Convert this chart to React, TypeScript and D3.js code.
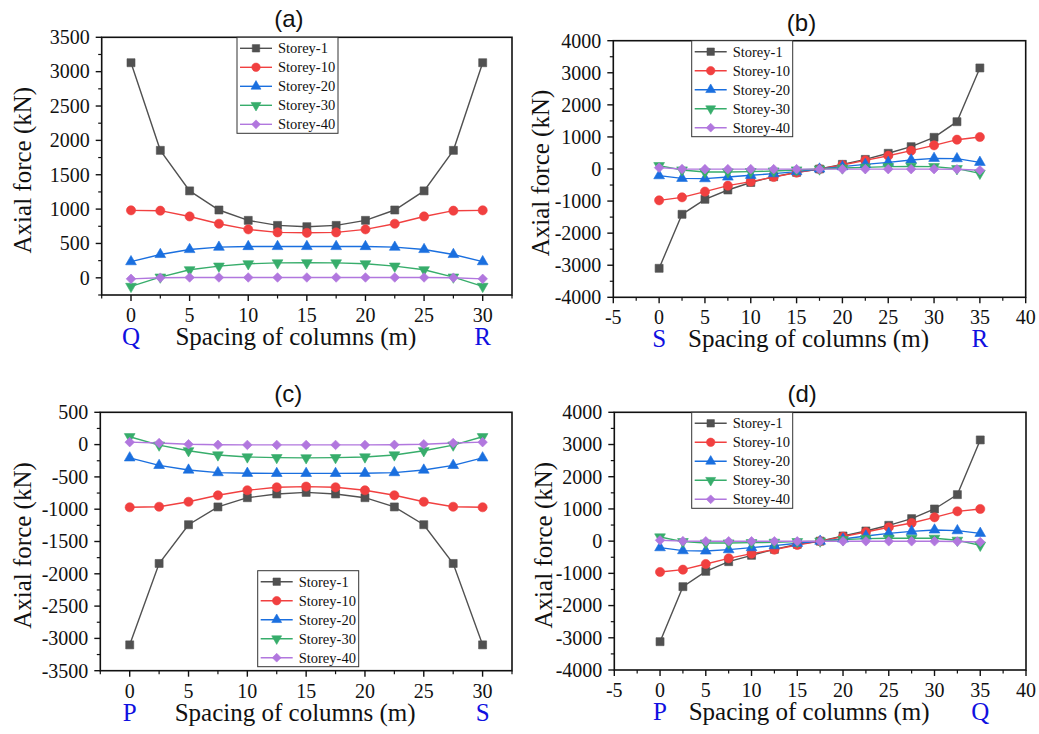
import React from 'react';
import * as d3 from 'd3';

const W = 1039;
const H = 734;
const serif = '"Liberation Serif", "Times New Roman", serif';
const sans = '"Liberation Sans", Arial, sans-serif';

const seriesNames = ['Storey-1', 'Storey-10', 'Storey-20', 'Storey-30', 'Storey-40'];
const seriesColors = ['#515151', '#F14040', '#1A6FDF', '#37AD6B', '#B177DE'];
const seriesShapes = ['square', 'circle', 'triangle', 'triangleDown', 'diamond'];

// column positions (m)
const span30 = [0, 2.5, 5, 7.5, 10, 12.5, 15, 17.5, 20, 22.5, 25, 27.5, 30];
const span35 = [0, 2.5, 5, 7.5, 10, 12.5, 15, 17.5, 20, 22.5, 25, 27.5, 30, 32.5, 35];

// (a) Q - R
const a1 = [3130, 1855, 1265, 987, 836, 763, 744, 763, 836, 987, 1265, 1855, 3130];
const a10 = [982, 977, 893, 787, 705, 661, 655, 661, 705, 787, 893, 977, 982];
const a20 = [235, 340, 412, 446, 455, 456, 456, 456, 455, 446, 412, 340, 235];
const a30 = [-125, 10, 117, 170, 204, 217, 219, 217, 204, 170, 117, 10, -125];
const a40 = [-15, 2, 5, 5, 5, 5, 5, 5, 5, 5, 5, 2, -15];

// (b) S - R
const b1 = [-3096, -1413, -945, -655, -420, -240, -105, 0, 145, 300, 490, 696, 987, 1475, 3150];
const b10 = [-977, -883, -706, -520, -395, -250, -114, 0, 125, 270, 415, 571, 738, 914, 997];
const b20 = [-208, -291, -301, -250, -197, -145, -83, 0, 73, 145, 208, 280, 332, 322, 208];
const b30 = [104, -31, -94, -94, -83, -62, -31, 0, 31, 52, 73, 83, 73, 10, -135];
const b40 = [42, 0, -5, -5, -5, -5, -5, -5, -5, -5, -5, -5, -5, -10, -40];

// (c) P - S
const c1 = [-3100, -1840, -1240, -965, -822, -764, -740, -764, -822, -965, -1240, -1840, -3100];
const c10 = [-970, -962, -885, -785, -707, -661, -650, -661, -707, -785, -885, -962, -970];
const c20 = [-205, -322, -394, -434, -444, -446, -446, -446, -444, -434, -394, -322, -205];
const c30 = [122, -8, -95, -160, -191, -202, -205, -202, -191, -160, -95, -8, 122];
const c40 = [38, 25, 5, -3, -5, -5, -5, -5, -5, -3, 5, 25, 38];

// (d) P - Q
const d1 = [-3121, -1413, -937, -637, -440, -254, -98, 0, 160, 316, 492, 699, 999, 1444, 3142];
const d10 = [-957, -885, -709, -533, -388, -264, -119, 0, 140, 285, 430, 564, 740, 926, 999];
const d20 = [-202, -295, -305, -264, -202, -140, -67, 0, 67, 160, 243, 305, 347, 326, 243];
const d30 = [130, -15, -57, -57, -47, -36, -15, 0, 46, 78, 88, 88, 88, 26, -130];
const d40 = [26, 0, -5, -5, -5, -5, -5, -5, -5, -5, -5, -5, -5, -10, -26];

type Panel = {
  title: string;
  xs: number[];
  series: number[][];
  box: [number, number, number, number]; // left, top, right, bottom
  xDomain: [number, number];
  yDomain: [number, number];
  yStep: number;
  ends: [string, string];
  legend: [number, number];
  yTitleX: number;
};

const panels: Panel[] = [
  {title: '(a)', xs: span30, series: [a1, a10, a20, a30, a40], box: [101.7, 37.3, 512, 295],
    xDomain: [-2.5, 32.5], yDomain: [-250, 3500], yStep: 500, ends: ['Q', 'R'], legend: [237, 37.3], yTitleX: 22},
  {title: '(b)', xs: span35, series: [b1, b10, b20, b30, b40], box: [613.3, 40.7, 1025.7, 297.3],
    xDomain: [-5, 40], yDomain: [-4000, 4000], yStep: 1000, ends: ['S', 'R'], legend: [691.7, 40.7], yTitleX: 540},
  {title: '(c)', xs: span30, series: [c1, c10, c20, c30, c40], box: [100.3, 412.3, 512, 670.7],
    xDomain: [-2.5, 32.5], yDomain: [-3500, 500], yStep: 500, ends: ['P', 'S'], legend: [257.7, 570.7], yTitleX: 22},
  {title: '(d)', xs: span35, series: [d1, d10, d20, d30, d40], box: [614.3, 412.3, 1026, 670],
    xDomain: [-5, 40], yDomain: [-4000, 4000], yStep: 1000, ends: ['P', 'Q'], legend: [691.7, 412.3], yTitleX: 543},
];

const markerPath = (shape: string, k = 1) => {
  switch (shape) {
    case 'square': return d3.symbol(d3.symbolSquare, 64 * k)()!;
    case 'circle': return d3.symbol(d3.symbolCircle, 66 * k)()!;
    case 'triangle': return d3.symbol(d3.symbolTriangle, 50 * k)()!;
    case 'triangleDown': return d3.symbol(d3.symbolTriangle, 50 * k)()!;
    default: return d3.symbol(d3.symbolSquare, 46 * k)()!;
  }
};
const markerRot = (shape: string) => (shape === 'triangleDown' ? 180 : shape === 'diamond' ? 45 : 0);

const Marker = ({x, y, i, k = 1}: {x: number; y: number; i: number; k?: number}) => (
  <path
    d={markerPath(seriesShapes[i], k)}
    transform={`translate(${x},${y}) rotate(${markerRot(seriesShapes[i])})`}
    fill={seriesColors[i]}
    stroke={seriesColors[i]}
    strokeWidth={0.6}
  />
);

const ChartPanel = ({p}: {p: Panel}) => {
  const [l, t, r, b] = p.box;
  const x = d3.scaleLinear().domain(p.xDomain).range([l, r]);
  const y = d3.scaleLinear().domain(p.yDomain).range([b, t]);
  const firstMajorX = Math.ceil(p.xDomain[0] / 5) * 5;
  const xMajorTicks = d3.range(firstMajorX, p.xDomain[1] + 0.01, 5);
  const xMinorTicks = d3.range(Math.ceil(p.xDomain[0] / 2.5) * 2.5, p.xDomain[1] + 0.01, 2.5)
    .filter(v => !xMajorTicks.includes(v));
  const firstMajorY = Math.ceil(p.yDomain[0] / p.yStep) * p.yStep;
  const yMajorTicks = d3.range(firstMajorY, p.yDomain[1] + 1, p.yStep);
  const yMinorTicks = d3.range(Math.ceil(p.yDomain[0] / (p.yStep / 2)) * (p.yStep / 2), p.yDomain[1] + 1, p.yStep / 2)
    .filter(v => !yMajorTicks.includes(v));

  const line = d3.line<number>().x((_, k) => x(p.xs[k])).y(v => y(v));
  const cx = (l + r) / 2;
  const [lx, ly] = p.legend;

  return (
    <g>
      <text x={cx - 18} y={t - 10} fontFamily={sans} fontSize={24} textAnchor="middle" fill="#111">
        {p.title}
      </text>
      {/* series */}
      {p.series.map((s, i) => (
        <path key={'l' + i} d={line(s)!} fill="none" stroke={seriesColors[i]} strokeWidth={1.4} />
      ))}
      {p.series.map((s, i) =>
        s.map((v, k) => <Marker key={`m${i}-${k}`} x={x(p.xs[k])} y={y(v)} i={i} />),
      )}
      {/* frame */}
      <rect x={l} y={t} width={r - l} height={b - t} fill="none" stroke="#111" strokeWidth={1.6} />
      {/* x ticks */}
      {xMajorTicks.map(v => (
        <g key={'xt' + v}>
          <line x1={x(v)} x2={x(v)} y1={b} y2={b + 6} stroke="#111" strokeWidth={1.4} />
          <text x={x(v)} y={b + 27} fontFamily={serif} fontSize={20} textAnchor="middle" fill="#111">
            {v}
          </text>
        </g>
      ))}
      {xMinorTicks.map(v => (
        <line key={'xm' + v} x1={x(v)} x2={x(v)} y1={b} y2={b + 3.5} stroke="#111" strokeWidth={1.2} />
      ))}
      {/* y ticks */}
      {yMajorTicks.map(v => (
        <g key={'yt' + v}>
          <line x1={l} x2={l - 6} y1={y(v)} y2={y(v)} stroke="#111" strokeWidth={1.4} />
          <text x={l - 12} y={y(v)} dy="0.34em" fontFamily={serif} fontSize={20} textAnchor="end" fill="#111">
            {v}
          </text>
        </g>
      ))}
      {yMinorTicks.map(v => (
        <line key={'ym' + v} x1={l} x2={l - 3.5} y1={y(v)} y2={y(v)} stroke="#111" strokeWidth={1.2} />
      ))}
      {/* axis titles */}
      <text x={cx - 11} y={b + 50} fontFamily={serif} fontSize={25} textAnchor="middle" fill="#111">
        Spacing of columns (m)
      </text>
      <text
        transform={`translate(${p.yTitleX},${(t + b) / 2 + 4}) rotate(-90)`}
        dy="0.35em"
        fontFamily={serif}
        fontSize={25}
        textAnchor="middle"
        fill="#111"
      >
        Axial force (kN)
      </text>
      {/* end labels */}
      <text x={x(0)} y={b + 50} fontFamily={serif} fontSize={25} textAnchor="middle" fill="#1010E0">
        {p.ends[0]}
      </text>
      <text x={x(p.xs[p.xs.length - 1])} y={b + 50} fontFamily={serif} fontSize={25} textAnchor="middle" fill="#1010E0">
        {p.ends[1]}
      </text>
      {/* legend */}
      <g transform={`translate(${lx},${ly})`}>
        <rect x={0} y={0} width={101} height={96} fill="#fff" stroke="#333" strokeWidth={1} />
        {seriesNames.map((n, i) => (
          <g key={n} transform={`translate(0,${11 + i * 19})`}>
            <line x1={3} x2={35} y1={0} y2={0} stroke={seriesColors[i]} strokeWidth={1.4} />
            <Marker x={19} y={0} i={i} k={0.85} />
            <text x={41} y={0} dy="0.35em" fontFamily={serif} fontSize={14.5} fill="#111">
              {n}
            </text>
          </g>
        ))}
      </g>
    </g>
  );
};

export default function App() {
  return (
    <svg
      width={W}
      height={H}
      viewBox={`0 0 ${W} ${H}`}
      style={{position: 'absolute', left: 0, top: 0, background: '#fff'}}
    >
      <rect width={W} height={H} fill="#fff" />
      {panels.map(p => (
        <ChartPanel key={p.title} p={p} />
      ))}
    </svg>
  );
}
